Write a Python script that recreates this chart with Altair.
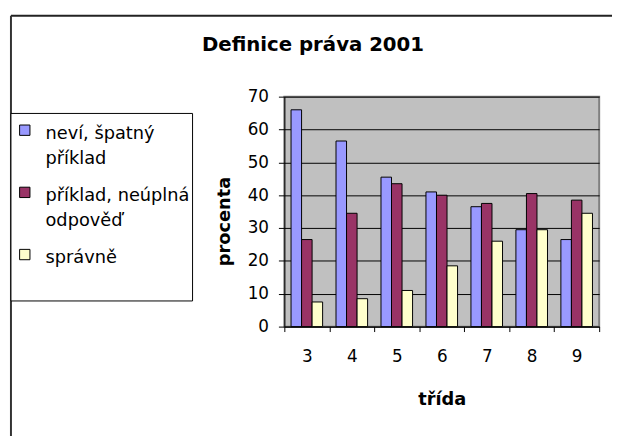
import altair as alt
import pandas as pd

grades = ["3", "4", "5", "6", "7", "8", "9"]
series = ["neví, špatný příklad", "příklad, neúplná odpověď", "správně"]
nevi = [66, 56.5, 45.5, 41, 36.5, 29.5, 26.5]
priklad = [26.5, 34.5, 43.5, 40, 37.5, 40.5, 38.5]
spravne = [7.5, 8.5, 11, 18.5, 26, 29.5, 34.5]
colors = ["#9999FF", "#993366", "#FFFFCC"]
title_text = "Definice práva 2001"

rows = []
for s, vals in zip(series, [nevi, priklad, spravne]):
    for g, v in zip(grades, vals):
        rows.append({"třída": g, "řada": s, "procenta": v})
df = pd.DataFrame(rows)

label_expr = (
    "datum.label == 'neví, špatný příklad' ? ['neví, špatný', 'příklad'] : "
    "datum.label == 'příklad, neúplná odpověď' ? ['příklad, neúplná', 'odpověď'] : [datum.label, '']"
)

FONT = "DejaVu Sans"

bars = alt.Chart(df).mark_bar(stroke="black", strokeWidth=1).encode(
    x=alt.X(
        "třída:N",
        sort=grades,
        scale=alt.Scale(paddingInner=0, paddingOuter=0),
        axis=alt.Axis(
            title="třída", labelAngle=0, tickBand="extent", grid=False,
            domainColor="black", tickColor="black", tickSize=5,
            labelFont=FONT, labelFontSize=17, labelColor="black", labelPadding=17,
            titleFont=FONT, titleFontSize=18, titleFontWeight="bold", titleColor="black",
            titlePadding=27,
        ),
    ),
    xOffset=alt.XOffset("řada:N", sort=series,
                        scale=alt.Scale(paddingInner=0, paddingOuter=0.636)),
    y=alt.Y(
        "procenta:Q",
        scale=alt.Scale(domain=[0, 70], nice=False),
        axis=alt.Axis(
            values=list(range(0, 71, 10)), title="procenta",
            domainColor="black", tickColor="black", tickSize=6,
            gridColor="black", gridWidth=1, gridOpacity=1,
            labelFont=FONT, labelFontSize=17, labelColor="black", labelPadding=10,
            titleFont=FONT, titleFontSize=18, titleFontWeight="bold", titleColor="black",
            titlePadding=14, titleY=126,
        ),
    ),
    color=alt.Color(
        "řada:N",
        scale=alt.Scale(domain=series, range=colors),
        legend=alt.Legend(
            title=None, orient="none", legendX=-272, legendY=20, padding=0,
            symbolType="M-1,-0.05H1V1.95H-1Z", symbolSize=110, symbolStrokeColor="black",
            symbolStrokeWidth=1, symbolOpacity=1,
            labelFont=FONT, labelFontSize=18, labelColor="black", labelOffset=12,
            labelLimit=300, labelExpr=label_expr, labelBaseline="top", rowPadding=11,
        ),
    ),
)

one = alt.Chart(pd.DataFrame({"a": [0]}))
frame_top = one.mark_rule(color="#222222", strokeWidth=2).encode(
    x=alt.value(-277), x2=alt.value(340), y=alt.value(-82))
frame_left = one.mark_rule(color="#333333", strokeWidth=2).encode(
    x=alt.value(-277), y=alt.value(-82), y2=alt.value(360))
legend_box = one.mark_rect(fill="white", stroke="black", strokeWidth=1).encode(
    x=alt.value(-277), x2=alt.value(-93), y=alt.value(17), y2=alt.value(207))
title_mark = one.mark_text(
    text=title_text, font=FONT, fontSize=20, fontWeight="bold", color="black",
    align="center", baseline="alphabetic",
).encode(x=alt.value(29), y=alt.value(-46))

chart = alt.layer(frame_top, frame_left, legend_box, title_mark, bars).properties(
    width=319,
    height=233,
    padding={"left": 280, "top": 87, "right": 13, "bottom": 108},
    autosize=alt.AutoSizeParams(type="none"),
).configure(
    background="white",
    view=alt.ViewConfig(fill="#C0C0C0", stroke="#808080", strokeWidth=2),
    style={"guide-label": {"lineHeight": 25}},
)

chart.save("out.html", embed_options={"renderer": "svg", "actions": False})
